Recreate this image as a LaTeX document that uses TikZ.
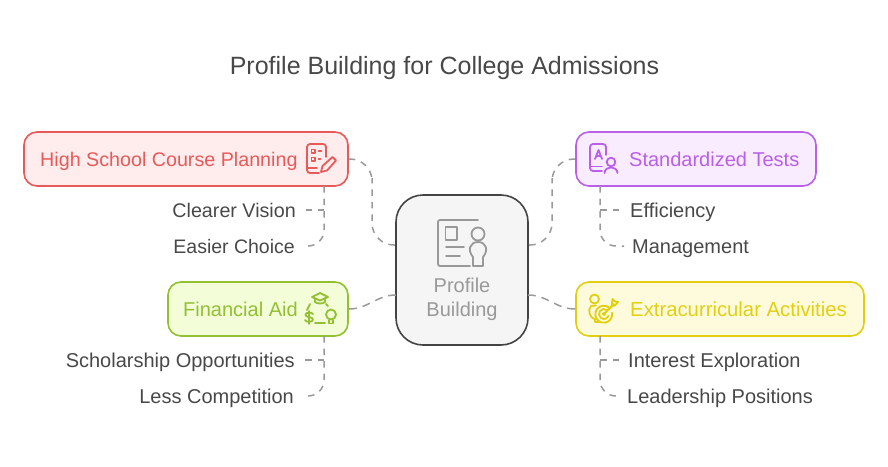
\documentclass[tikz,border=0pt]{standalone}
\usepackage{fontspec}
\setmainfont{Liberation Sans}
\usetikzlibrary{positioning}
\definecolor{redline}{HTML}{E85A5A}
\definecolor{redfill}{HTML}{FFECEC}
\definecolor{purpleline}{HTML}{B95FE8}
\definecolor{purplefill}{HTML}{F9ECFF}
\definecolor{greenline}{HTML}{93C032}
\definecolor{greenfill}{HTML}{F3FDD8}
\definecolor{yellowline}{HTML}{E2D010}
\definecolor{yellowfill}{HTML}{FEFBDC}
\definecolor{darkline}{HTML}{444444}
\definecolor{softgray}{HTML}{999999}
\definecolor{textgray}{HTML}{484848}
\tikzset{
    box/.style={rectangle, draw, rounded corners=13pt, line width=1.6pt, minimum height=54pt, inner sep=0pt},
    lbl/.style={inner sep=0pt, font=\fontsize{20}{24}\selectfont, text=textgray},
    link/.style={draw=softgray, line width=1.5pt, dash pattern=on 6.5pt off 6pt},
    icon/.style={line width=1.8pt, line cap=round, line join=round}
}
\begin{document}
\begin{tikzpicture}[x=1pt, y=-1pt]
    \useasboundingbox (0,0) rectangle (888,466);
    \node[lbl, anchor=base, font=\fontsize{25}{30}\selectfont] (title) at (444.5,74) {Profile Building for College Admissions};

    \node[box, draw=darkline, fill=black!4, minimum width=132pt, minimum height=150pt, rounded corners=27pt] (center) at (462,270) {};
    \node[box, draw=redline, fill=redfill, minimum width=324pt] (plan) at (186,159) {};
    \node[box, draw=purpleline, fill=purplefill, minimum width=240pt] (tests) at (696,159) {};
    \node[box, draw=greenline, fill=greenfill, minimum width=180pt] (aid) at (258,309) {};
    \node[box, draw=yellowline, fill=yellowfill, minimum width=288pt] (extra) at (720,309) {};

    \node[lbl, anchor=base, text=softgray] (centertop) at (462,292) {Profile};
    \node[lbl, anchor=base, text=softgray] (centerbottom) at (462,316) {Building};
    \node[lbl, text=redline, anchor=base west, font=\fontsize{19.7}{24}\selectfont] (plantext) at (40,166) {High School Course Planning};
    \node[lbl, text=purpleline, anchor=base west] (teststext) at (629,166) {Standardized Tests};
    \node[lbl, text=greenline, anchor=base west] (aidtext) at (183,316) {Financial Aid};
    \node[lbl, text=yellowline, anchor=base west, font=\fontsize{20.3}{24}\selectfont] (extratext) at (630,316) {Extracurricular Activities};

    \node[lbl, anchor=base east, font=\fontsize{19.7}{24}\selectfont] (vision) at (296,217) {Clearer Vision};
    \node[lbl, anchor=base east, font=\fontsize{19.5}{24}\selectfont] (choice) at (295,253) {Easier Choice};
    \node[lbl, anchor=base west] (efficiency) at (630,217) {Efficiency};
    \node[lbl, anchor=base west] (management) at (632,253) {Management};
    \node[lbl, anchor=base east] (scholar) at (295,367) {Scholarship Opportunities};
    \node[lbl, anchor=base east] (less) at (294,403) {Less Competition};
    \node[lbl, anchor=base west] (interest) at (628,367) {Interest Exploration};
    \node[lbl, anchor=base west] (leader) at (627,403) {Leadership Positions};

    % connector ends
    \coordinate (c1) at (396,245);
    \coordinate (c2) at (396,295);
    \coordinate (c3) at (528,245);
    \coordinate (c4) at (528,295);
    \coordinate (m1) at (372,200);
    \coordinate (m3) at (552,200);
    \coordinate (s1) at (324,186);
    \coordinate (s2) at (600,186);
    \coordinate (s3) at (324,336);
    \coordinate (s4) at (600,336);
    \coordinate (e1) at (306,210);
    \coordinate (e2) at (304,246);
    \coordinate (e3) at (620,210);
    \coordinate (e4) at (624,246);
    \coordinate (e5) at (305,360);
    \coordinate (e6) at (303,396);
    \coordinate (e7) at (620,360);
    \coordinate (e8) at (619,396);

    % to the center
    \draw[link, rounded corners=22pt] (plan.east) -| (m1) |- (c1);
    \draw[link, rounded corners=22pt] (tests.west) -| (m3) |- (c3);
    \draw[link, dash pattern=on 8pt off 6pt] (aid.east) to[out=0, in=180] (c2);
    \draw[link, dash pattern=on 8pt off 6pt] (extra.west) to[out=180, in=0] (c4);

    % to the items
    \draw[link, rounded corners=16pt] (s1) |- (e2);
    \draw[link] (s1 |- e1) -- (e1);
    \draw[link, rounded corners=16pt] (s2) |- (e4);
    \draw[link] (s2 |- e3) -- (e3);
    \draw[link, rounded corners=16pt] (s3) |- (e6);
    \draw[link] (s3 |- e5) -- (e5);
    \draw[link, rounded corners=16pt] (s4) |- (e8);
    \draw[link] (s4 |- e7) -- (e7);

    % center icon
    \begin{scope}[icon, draw=softgray]
        \draw[rounded corners=2pt] (478,220) -- (438,220) -- (438,266) -- (470,266);
        \draw (445.5,227) rectangle (457,240);
        \draw (446,247) -- (464,247);
        \draw (446,256) -- (460,256);
        \draw (478,234) circle (6.5);
        \draw (473,266) -- (473,257) .. controls (467,250) and (470,242) .. (478,242) .. controls (486,242) and (489,250) .. (483,257) -- (483,266) -- cycle;
    \end{scope}
    % plan icon
    \begin{scope}[icon, draw=redline]
        \draw[rounded corners=3pt] (326,157) -- (326,144) -- (307,144) -- (307,173) -- (319,173);
        \draw (307,168) -- (317,168);
        \draw (311.5,149.5) rectangle (315,153);
        \draw (311.5,157.5) rectangle (315,161);
        \draw (318.5,151) -- (321.5,151);
        \draw (318.5,159) -- (320.5,159);
        \draw (321,172) -- (322.5,166) -- (332.5,157) -- (336,160.5) -- (327,170.5) -- cycle;
    \end{scope}
    % tests icon
    \begin{scope}[icon, draw=purpleline]
        \draw[rounded corners=3pt] (606,155) -- (606,144) -- (590,144) -- (590,171) -- (602,171);
        \draw (591,166.5) -- (602,166.5);
        \draw (595,159) -- (598.5,150) -- (602,159);
        \draw (596.5,156) -- (600.5,156);
        \draw (611,162) circle (4.3);
        \draw (604.5,173) .. controls (605,165.5) and (617,165.5) .. (617.5,173);
    \end{scope}
    % aid icon
    \begin{scope}[icon, draw=greenline]
        \draw (320,293) -- (328,297) -- (320,300.5) -- (312,297) -- cycle;
        \draw (315,299.5) -- (315,302) .. controls (317,304) and (323,304) .. (325,302) -- (325,299.5);
        \draw (307,310) -- (310,304);
        \draw (326,304) -- (328,306);
        \draw (315,323) -- (325,323);
        \draw (331,314.5) circle (5);
        \draw (329,320) -- (329,323.5) -- (333,323.5) -- (333,320);
        \draw (313,314) .. controls (312,312) and (305,312) .. (305.5,315) .. controls (306,318) and (313,316.5) .. (313,319.5) .. controls (313,322.5) and (306,322.5) .. (305,320);
        \draw (309,311) -- (309,324);
    \end{scope}
    % extra icon
    \begin{scope}[icon, draw=yellowline]
        \draw (594.5,299) circle (4.5);
        \draw (599,322) -- (595,322) -- (595,319.5) .. controls (590,318) and (587,310) .. (591,306) -- (596,305.5);
        \draw (609,307.5) arc[start angle=-52, end angle=-370, radius=8.5];
        \draw (607,310) arc[start angle=-53, end angle=-340, radius=5];
        \draw (604,314) circle (1.2);
        \draw (604,314) -- (614,304);
        \draw (612,303) -- (612.5,299) -- (615,301.5) -- (618,302) -- (615,305.5) -- (611.5,306) -- cycle;
    \end{scope}
\end{tikzpicture}
\end{document}
